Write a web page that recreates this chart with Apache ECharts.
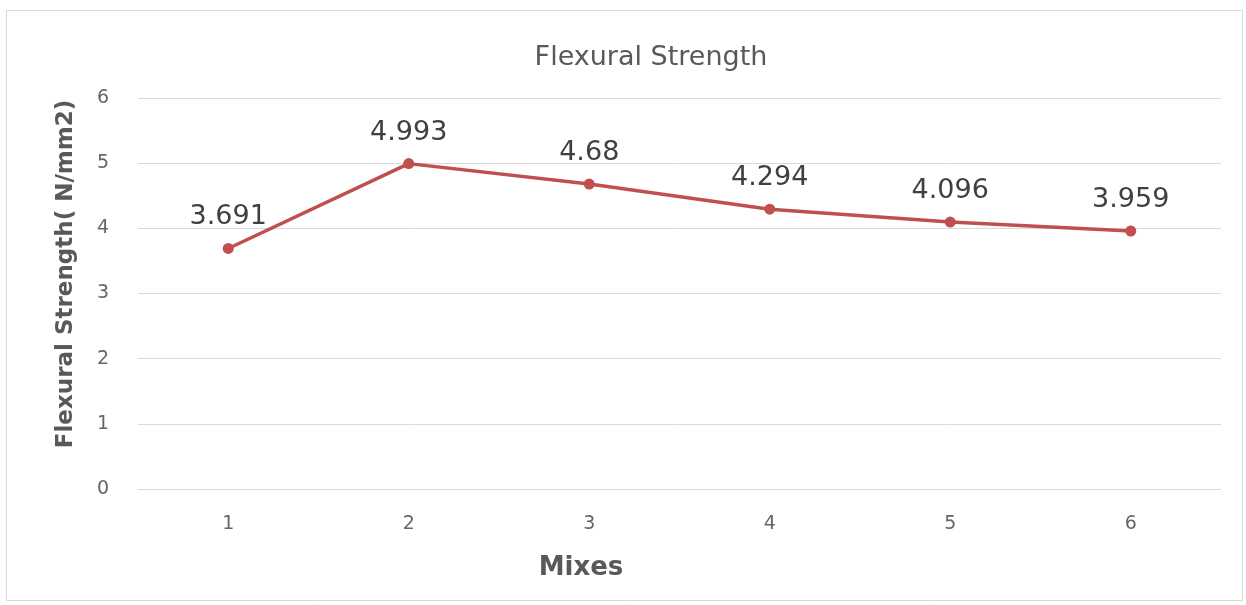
<!DOCTYPE html>
<html><head><meta charset="utf-8">
<script src="https://cdn.jsdelivr.net/npm/echarts@6/dist/echarts.min.js"></script>
<style>html,body{margin:0;padding:0;background:#fff}#c{width:1246px;height:605px}</style>
</head><body><div id="c"></div>
<script>
const categories = ['1','2','3','4','5','6'];
const strength = [3.691, 4.993, 4.68, 4.294, 4.096, 3.959];
const labels = ['3.691','4.993','4.68','4.294','4.096','3.959'];
const FONT = '"DejaVu Sans", "Open Sans", sans-serif';
const chart = echarts.init(document.getElementById('c'));
chart.setOption({
  animation: false,
  backgroundColor: '#fff',
  title: { text: 'Flexural Strength', left: 646, top: 39, textAlign: 'center',
    textStyle: { fontFamily: FONT, fontSize: 27, fontWeight: 'normal', color: '#595959' } },
  grid: { left: 138, right: 25, top: 98, bottom: 116 },
  xAxis: { type: 'category', data: categories, boundaryGap: true,
    axisLine: { show: false }, axisTick: { show: false },
    axisLabel: { margin: 26, fontFamily: FONT, fontSize: 19, color: '#666666' } },
  yAxis: { type: 'value', min: 0, max: 6, interval: 1,
    axisLine: { show: false }, axisTick: { show: false },
    axisLabel: { margin: 29, fontFamily: FONT, fontSize: 19, color: '#666666' },
    splitLine: { lineStyle: { color: '#d9d9d9', width: 1 } } },
  graphic: [
    { type: 'rect', shape: { x: 6.5, y: 10.5, width: 1236, height: 590 }, style: { fill: 'none', stroke: '#d9d9d9', lineWidth: 1 }, z: -1 },
    { type: 'text', x: 581, y: 568, style: { text: 'Mixes', fontFamily: FONT, fontSize: 26, fontWeight: 'bold', fill: '#595959', align: 'center', verticalAlign: 'middle' } },
    { type: 'text', x: 66, y: 274, rotation: Math.PI/2, style: { text: 'Flexural Strength( N/mm2)', fontFamily: FONT, fontSize: 23, fontWeight: 'bold', fill: '#595959', align: 'center', verticalAlign: 'middle' } }
  ],
  series: [{ type: 'line', data: strength, symbol: 'circle', symbolSize: 11,
    lineStyle: { color: '#c0504d', width: 3.5 }, itemStyle: { color: '#c0504d' },
    label: { show: true, position: 'top', distance: 12, fontFamily: FONT, fontSize: 27, color: '#404040',
      formatter: p => labels[p.dataIndex] } }]
});
</script></body></html>
